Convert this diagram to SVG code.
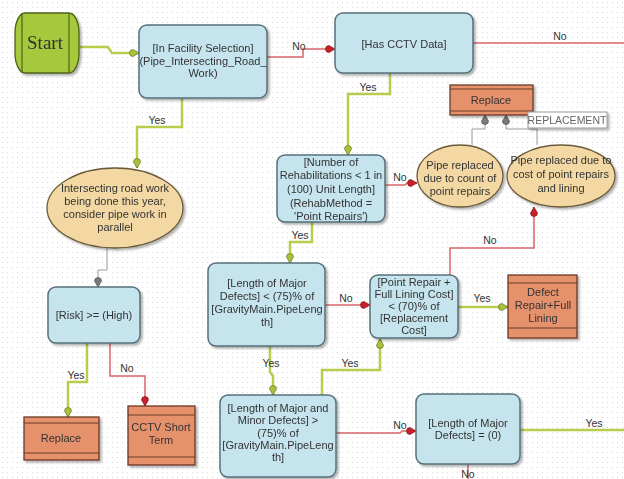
<svg xmlns="http://www.w3.org/2000/svg" width="624" height="479" viewBox="0 0 624 479">
<defs>
<pattern id="dots" width="5" height="5" patternUnits="userSpaceOnUse">
<rect width="5" height="5" fill="#ffffff"/>
<circle cx="2.5" cy="2.5" r="0.6" fill="#d4d4d4"/>
</pattern>
<filter id="sh" x="-10%" y="-10%" width="130%" height="130%">
<feDropShadow dx="2" dy="2" stdDeviation="1.2" flood-color="#000" flood-opacity="0.3"/>
</filter>
<marker id="ag" viewBox="0 0 10 8" refX="10" refY="4" markerWidth="10" markerHeight="8" orient="auto" markerUnits="userSpaceOnUse">
<path d="M10,4 L4,0.5 A3.5,3.5 0 0 0 4,7.5 Z" fill="#a9c23c" stroke="#55661a" stroke-width="0.6"/>
</marker>
<marker id="ar" viewBox="0 0 10 8" refX="10" refY="4" markerWidth="10" markerHeight="8" orient="auto" markerUnits="userSpaceOnUse">
<path d="M10,4 L4,0.5 A3.5,3.5 0 0 0 4,7.5 Z" fill="#c8202a" stroke="#7a1015" stroke-width="0.6"/>
</marker>
<marker id="ay" viewBox="0 0 10 8" refX="10" refY="4" markerWidth="10" markerHeight="8" orient="auto" markerUnits="userSpaceOnUse">
<path d="M10,4 L4,0.5 A3.5,3.5 0 0 0 4,7.5 Z" fill="#7a7a7a" stroke="#444" stroke-width="0.6"/>
</marker>
</defs>
<style>
text{font-family:"Liberation Sans",Arial,sans-serif;font-size:11px;fill:#333;text-anchor:middle}
.lbl{font-size:10.5px}
.dec{fill:#c6e4ee;stroke:#56707a;stroke-width:1.5}
.act{fill:#e5916c;stroke:#6b3a26;stroke-width:1.3}
.ell{fill:#f3d8a4;stroke:#6b5a3a;stroke-width:1.3}
.g{fill:none;stroke:#b9cd4d;stroke-width:2.5;marker-end:url(#ag)}
.r{fill:none;stroke:#d9656b;stroke-width:1.5;marker-end:url(#ar)}
.y{fill:none;stroke:#9a9a9a;stroke-width:1;marker-end:url(#ay)}
.nm{marker-end:none}
</style>
<rect width="624" height="479" fill="url(#dots)"/>

<g id="connectors">
<path class="g" d="M80,47 H108 L112,53 H139"/>
<path class="r" d="M267,57 H303 V49 H335"/>
<path class="r nm" d="M473,43 H624"/>
<path class="g" d="M390,73 V94 H348 V155"/>
<path class="g" d="M182,98 V127 H137 V168"/>
<path class="y" d="M107,248 V270 H98 V287"/>
<path class="g" d="M87,343 V382 H68 V417"/>
<path class="r" d="M110,343 V376 H145 V406"/>
<path class="r" d="M385,185 H405 L407,183 H417"/>
<path class="g" d="M312,222 V242 H290 V263"/>
<path class="y" d="M472,145 V129 H485 V115"/>
<path class="y" d="M537,145 V129 H506 V115"/>
<path class="r" d="M450,275 V248 H534 V207"/>
<path class="r" d="M325,305 H370"/>
<path class="g" d="M458,307 H508"/>
<path class="g" d="M270,346 V372 L273,376 V395"/>
<path class="g" d="M322,395 V370 H380 V339"/>
<path class="r" d="M336,433 H400 L402,431 H416"/>
<path class="g nm" d="M520,430 H624"/>
<path class="r nm" d="M468,464 V479"/>
<text class="lbl" x="299" y="50">No</text>
<text class="lbl" x="560" y="40">No</text>
<text class="lbl" x="368" y="91">Yes</text>
<text class="lbl" x="157" y="124">Yes</text>
<text class="lbl" x="76" y="379">Yes</text>
<text class="lbl" x="127" y="372">No</text>
<text class="lbl" x="400" y="181">No</text>
<text class="lbl" x="300" y="239">Yes</text>
<text class="lbl" x="490" y="244">No</text>
<text class="lbl" x="346" y="302">No</text>
<text class="lbl" x="482" y="302">Yes</text>
<text class="lbl" x="271" y="367">Yes</text>
<text class="lbl" x="350" y="367">Yes</text>
<text class="lbl" x="400" y="429">No</text>
<text class="lbl" x="594" y="427">Yes</text>
<text class="lbl" x="468" y="478">No</text>
</g>

<g id="start" filter="url(#sh)">
<rect x="15" y="13" width="64" height="60" rx="10" ry="20" fill="#a6c83c" stroke="#4e6319" stroke-width="1.3"/>
<line x1="22" y1="13.5" x2="22" y2="72.5" stroke="#4e6319" stroke-width="1.2"/>
<line x1="69" y1="13.5" x2="69" y2="72.5" stroke="#4e6319" stroke-width="1.2"/>
<text x="45" y="49" style="font-family:'Liberation Serif','Times New Roman',serif;font-size:19px">Start</text>
</g>

<g id="in-facility" filter="url(#sh)">
<rect class="dec" x="139" y="25" width="128" height="73" rx="8"/>
<text x="203" y="52">[In Facility Selection]</text>
<text x="203" y="65">(Pipe_Intersecting_Road_</text>
<text x="203" y="77">Work)</text>
</g>

<g id="has-cctv" filter="url(#sh)">
<rect class="dec" x="335" y="13" width="138" height="60" rx="8"/>
<text x="404" y="48">[Has CCTV Data]</text>
</g>

<g id="intersecting" filter="url(#sh)">
<ellipse class="ell" cx="115" cy="208" rx="68" ry="40"/>
<text x="115" y="192">Intersecting road work</text>
<text x="115" y="205">being done this year,</text>
<text x="115" y="218">consider pipe work in</text>
<text x="115" y="231">parallel</text>
</g>

<g id="risk" filter="url(#sh)">
<rect class="dec" x="48" y="287" width="92" height="56" rx="8"/>
<text x="94" y="319">[Risk] &gt;= (High)</text>
</g>

<g id="replace-left" filter="url(#sh)">
<rect class="act" x="24" y="417" width="75" height="43"/>
<line x1="24" y1="423" x2="99" y2="423" stroke="#6b3a26"/>
<line x1="24" y1="453" x2="99" y2="453" stroke="#6b3a26"/>
<text x="61" y="442">Replace</text>
</g>

<g id="cctv-short" filter="url(#sh)">
<rect class="act" x="128" y="406" width="67" height="59"/>
<line x1="128" y1="415" x2="195" y2="415" stroke="#6b3a26"/>
<line x1="128" y1="457" x2="195" y2="457" stroke="#6b3a26"/>
<text x="161" y="431">CCTV Short</text>
<text x="161" y="444">Term</text>
</g>

<g id="num-rehab" filter="url(#sh)">
<rect class="dec" x="277" y="155" width="108" height="67" rx="8"/>
<text x="331" y="166">[Number of</text>
<text x="331" y="179">Rehabilitations &lt; 1 in</text>
<text x="331" y="193">(100) Unit Length]</text>
<text x="331" y="207">(RehabMethod =</text>
<text x="331" y="220">'Point Repairs')</text>
</g>

<g id="replace-top" filter="url(#sh)">
<rect class="act" x="450" y="85" width="83" height="30"/>
<line x1="450" y1="89" x2="533" y2="89" stroke="#6b3a26"/>
<line x1="450" y1="111" x2="533" y2="111" stroke="#6b3a26"/>
<text x="491" y="104">Replace</text>
</g>

<g id="replacement-label" filter="url(#sh)">
<rect x="528" y="112" width="79" height="16" fill="#ffffff" stroke="#9a9a9a"/>
<text x="567" y="124" style="font-size:10.5px;fill:#666">REPLACEMENT</text>
</g>

<g id="pipe-count" filter="url(#sh)">
<ellipse class="ell" cx="460" cy="176" rx="43" ry="31"/>
<text x="460" y="169">Pipe replaced</text>
<text x="460" y="182">due to count of</text>
<text x="460" y="195">point repairs</text>
</g>

<g id="pipe-cost" filter="url(#sh)">
<ellipse class="ell" cx="561" cy="176" rx="54" ry="31"/>
<text x="561" y="164">Pipe replaced due to</text>
<text x="561" y="178">cost of point repairs</text>
<text x="561" y="192">and lining</text>
</g>

<g id="length-major-75" filter="url(#sh)">
<rect class="dec" x="208" y="263" width="117" height="83" rx="8"/>
<text x="267" y="287">[Length of Major</text>
<text x="267" y="300">Defects] &lt; (75)% of</text>
<text x="267" y="313">[GravityMain.PipeLeng</text>
<text x="267" y="326">th]</text>
</g>

<g id="point-repair" filter="url(#sh)">
<rect class="dec" x="370" y="275" width="88" height="63" rx="8"/>
<text x="414" y="286">[Point Repair +</text>
<text x="414" y="298">Full Lining Cost]</text>
<text x="414" y="310">&lt; (70)% of</text>
<text x="414" y="322">[Replacement</text>
<text x="414" y="334">Cost]</text>
</g>

<g id="defect-repair" filter="url(#sh)">
<rect class="act" x="508" y="275" width="69" height="63"/>
<line x1="508" y1="283" x2="577" y2="283" stroke="#6b3a26"/>
<line x1="508" y1="328" x2="577" y2="328" stroke="#6b3a26"/>
<text x="543" y="296">Defect</text>
<text x="543" y="309">Repair+Full</text>
<text x="543" y="322">Lining</text>
</g>

<g id="length-major-minor" filter="url(#sh)">
<rect class="dec" x="220" y="395" width="116" height="82" rx="8"/>
<text x="278" y="412">[Length of Major and</text>
<text x="278" y="424">Minor Defects] &gt;</text>
<text x="278" y="437">(75)% of</text>
<text x="278" y="449">[GravityMain.PipeLeng</text>
<text x="278" y="461">th]</text>
</g>

<g id="length-major-zero" filter="url(#sh)">
<rect class="dec" x="416" y="394" width="104" height="70" rx="8"/>
<text x="468" y="427">[Length of Major</text>
<text x="468" y="439">Defects] = (0)</text>
</g>
</svg>
